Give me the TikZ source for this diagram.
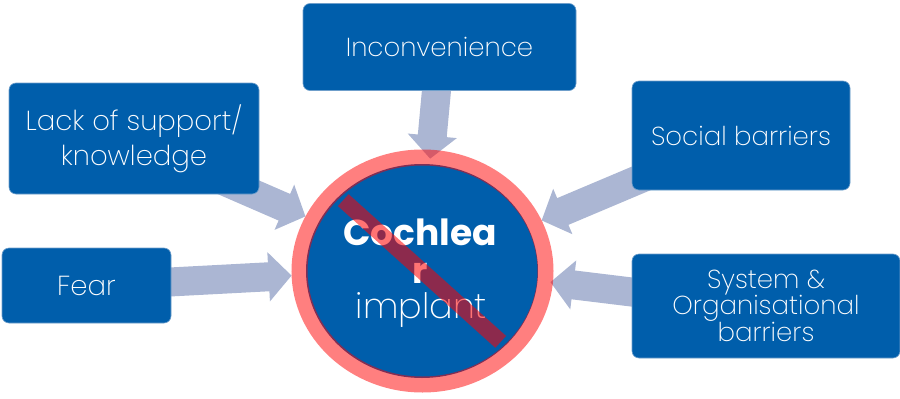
\documentclass[tikz,border=0pt]{standalone}
\usepackage{fontspec}
\setmainfont{Poppins}[UprightFont=* ExtraLight, BoldFont=* Bold]
\usetikzlibrary{arrows.meta, positioning, shapes.geometric, backgrounds}
\definecolor{cblue}{HTML}{005EAB}
\definecolor{cedge}{HTML}{6F9FCB}
\definecolor{carrow}{HTML}{ABB6D3}
\definecolor{cred}{HTML}{FF0000}
\tikzset{
  every picture/.style={x=1pt, y=-1pt},
  box/.style={draw=cedge, fill=cblue, line width=0.6pt, rounded corners=7pt, align=center, text=white, font=\fontsize{26}{26}\selectfont, inner sep=0pt},
  bigbox/.style={box, font=\fontsize{27.5}{35}\selectfont},
  arrow/.style={-{Triangle[length=23pt, width=48pt]}, draw=carrow, line width=29pt},
  word/.style={anchor=base, text=white, font=\fontsize{36}{36}\selectfont\bfseries},
}
\begin{document}
\begin{tikzpicture}
  \useasboundingbox (0,0) rectangle (900,399);
  % boxes
  \node[box, minimum width=273pt, minimum height=87pt] (inconv) at (439.5,47) {Inconvenience};
  \node[bigbox, minimum width=250pt, minimum height=111pt] (lack) at (134,138.5) {Lack of support/\\knowledge};
  \node[box, minimum width=218pt, minimum height=109pt] (social) at (741,135.5) {Social barriers};
  \node[bigbox, minimum width=169pt, minimum height=75pt] (fear) at (86.5,285.5) {Fear};
  \node[box, minimum width=268pt, minimum height=104pt] (system) at (766,306) {System \&\\Organisational\\barriers};
  % circle
  \node[ellipse, fill=cblue, minimum width=232pt, minimum height=214pt, inner sep=0pt] (hub) at (422,271) {};
  \node[word] (coch) at (420,245) {Cochlea};
  \node[word] (wrap) at (420.5,283) {r};
  \node[word, font=\fontsize{35}{36}\selectfont] (impl) at (421.5,318) {implant};
  \node[ellipse, draw=cred, draw opacity=0.5, line width=16pt, minimum width=246pt, minimum height=227pt, inner sep=0pt] (ring) at (422.5,271) {};
  \draw[cred, opacity=0.55, line width=16pt, shorten >=6pt, shorten <=6pt] (hub.138) -- (hub.-42);
  % arrows go under everything
  \begin{scope}[on background layer]
    \draw[arrow, shorten >=-9pt] ([xshift=-2.5pt, yshift=6pt]inconv.south) -- (ring.86);
    \draw[arrow] ([xshift=-45pt, yshift=17.5pt]lack.south east) -- (ring.155.5);
    \draw[arrow] ([xshift=18pt, yshift=15.5pt]social.south west) -- (ring.23.9);
    \draw[arrow] ([xshift=-11pt, yshift=3pt]fear.east) -- (ring.182.2);
    \draw[arrow, shorten >=-2.5pt] ([xshift=8pt, yshift=13pt]system.west) -- (ring.-5.8);
  \end{scope}
\end{tikzpicture}
\end{document}
